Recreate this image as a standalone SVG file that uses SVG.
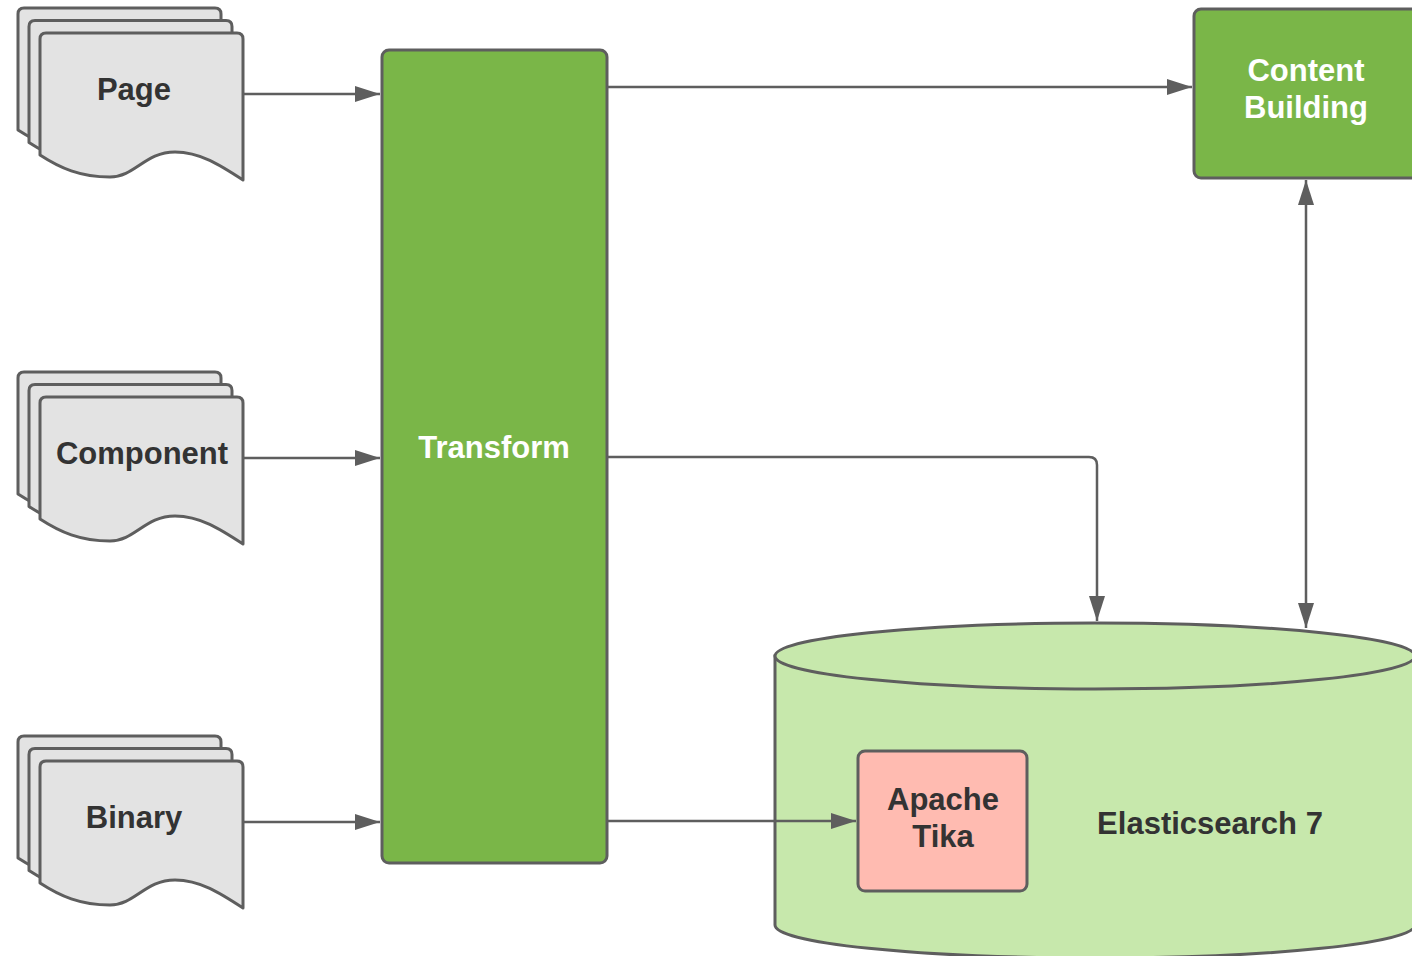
<svg xmlns="http://www.w3.org/2000/svg" xmlns:xlink="http://www.w3.org/1999/xlink" width="1412" height="956" viewBox="0 0 1412 956">
<style>
.doc{fill:#e3e3e3;stroke:#5e5e5e;stroke-width:3;stroke-linejoin:round}
.box{stroke:#5e5e5e;stroke-width:3}
.green{fill:#7ab648}
.tika{fill:#ffbbb1}
.cyl{fill:#c7e8ac;stroke:#5e5e5e;stroke-width:3}
.lbl{font-family:"Liberation Sans",Arial,sans-serif;font-weight:bold;font-size:31px;text-anchor:middle;fill:#333333}
.wht{fill:#ffffff}
.conn{fill:none;stroke:#5e5e5e;stroke-width:2.5}
</style>
<defs>
<path id="doc" d="M0,6 Q0,0 6,0 H197 Q203,0 203,6 V147 C180,132 160,119 135,119 C105,119 95,144 70,144 C40,144 20,135 0,122 Z"/>
<marker id="arr" markerUnits="userSpaceOnUse" markerWidth="26" markerHeight="18" refX="25" refY="9" orient="auto">
<path d="M0,1 L25,9 L0,17 Z" fill="#5e5e5e"/>
</marker>
<marker id="arrS" markerUnits="userSpaceOnUse" markerWidth="26" markerHeight="18" refX="25" refY="9" orient="auto-start-reverse">
<path d="M0,1 L25,9 L0,17 Z" fill="#5e5e5e"/>
</marker>
</defs>

<g id="page">
<use xlink:href="#doc" href="#doc" class="doc" x="18" y="8"/>
<use xlink:href="#doc" href="#doc" class="doc" x="29" y="20.5"/>
<use xlink:href="#doc" href="#doc" class="doc" x="40" y="33"/>
<text class="lbl" x="134" y="100">Page</text>
</g>

<g id="component">
<use xlink:href="#doc" href="#doc" class="doc" x="18" y="372"/>
<use xlink:href="#doc" href="#doc" class="doc" x="29" y="384.5"/>
<use xlink:href="#doc" href="#doc" class="doc" x="40" y="397"/>
<text class="lbl" x="142" y="464">Component</text>
</g>

<g id="binary">
<use xlink:href="#doc" href="#doc" class="doc" x="18" y="736"/>
<use xlink:href="#doc" href="#doc" class="doc" x="29" y="748.5"/>
<use xlink:href="#doc" href="#doc" class="doc" x="40" y="761"/>
<text class="lbl" x="134" y="828">Binary</text>
</g>

<g id="transform">
<rect class="box green" x="382" y="50" width="225" height="813" rx="7"/>
<text class="lbl wht" x="494" y="458">Transform</text>
</g>

<g id="content-building">
<rect class="box green" x="1194" y="9" width="226" height="169" rx="7"/>
<text class="lbl wht" x="1306" y="81">Content</text>
<text class="lbl wht" x="1306" y="118">Building</text>
</g>

<g id="elasticsearch">
<path class="cyl" d="M775,656 V925 A320,33 0 0 0 1415,925 V656 Z"/>
<ellipse class="cyl" cx="1095" cy="656" rx="320" ry="33"/>
<text class="lbl" x="1210" y="834">Elasticsearch 7</text>
</g>

<g id="apache-tika">
<rect class="box tika" x="858" y="751" width="169" height="140" rx="7"/>
<text class="lbl" x="943" y="810">Apache</text>
<text class="lbl" x="943" y="847">Tika</text>
</g>

<g id="connectors">
<path class="conn" d="M243,94 H380" marker-end="url(#arr)"/>
<path class="conn" d="M243,458 H380" marker-end="url(#arr)"/>
<path class="conn" d="M243,822 H380" marker-end="url(#arr)"/>
<path class="conn" d="M607,87 H1192" marker-end="url(#arr)"/>
<path class="conn" d="M607,457 H1089 Q1097,457 1097,465 V621" marker-end="url(#arr)"/>
<path class="conn" d="M607,821 H856" marker-end="url(#arr)"/>
<path class="conn" d="M1306,180 V628" marker-start="url(#arrS)" marker-end="url(#arr)"/>
</g>
</svg>
